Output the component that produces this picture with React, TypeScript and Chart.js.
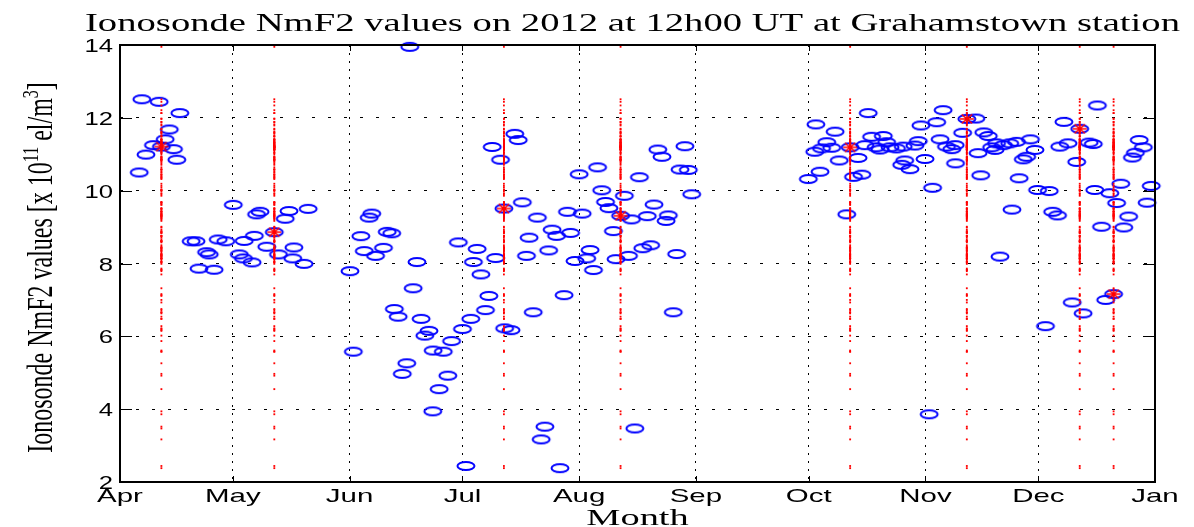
import React, { useEffect, useRef } from 'react';
import { Chart, registerables } from 'chart.js';

Chart.register(...registerables);

// Month axis: days counted from 1 April 2012
const monthLabels = ['Apr', 'May', 'Jun', 'Jul', 'Aug', 'Sep', 'Oct', 'Nov', 'Dec', 'Jan'];
const monthStartDay = [0, 30, 61, 91, 122, 153, 183, 214, 244, 275];
const yTickValues = [2, 4, 6, 8, 10, 12, 14];

// Observation day (days since 1 April 2012) and NmF2 at 12h00 UT [x 10^11 el/m^3]
const obsDay = [
  5.1, 5.8, 6.9, 8.9, 10.4, 11, 12.0, 13.1, 14.2, 15.1, 15.9, 18.9, 20.2, 21.0, 23.0, 23.7, 25.0, 26.1, 28.1,
  30.1, 31.7, 32.8, 33.0, 35.1, 35.7, 36.3, 37.2, 39.0, 41, 42.1, 43.9, 44.9, 45.9, 46.2, 48.9, 50.0,
  61.1, 62.0, 64.0, 64.9, 66.2, 66.9, 67.9, 70.0, 71.0, 72.2, 72.9, 73.9, 75.0, 76.2, 77.0, 77.9, 78.9, 80.0,
  81.0, 82.1, 83.1, 83.2, 84.8, 85.9, 87.1, 88.1, 89.9,
  91.0, 91.9, 93.2, 93.9, 94.9, 95.9, 97.1, 98.0, 98.9, 99.8, 101.1, 102, 102.2, 103.9, 104.9, 105.8, 106.9,
  108.0, 108.7, 109.8, 110.9, 111.9, 112.9, 113.9, 114.8, 116.0, 116.9, 118.0, 118.9, 119.7, 120.9,
  122.0, 122.8, 124.0, 124.9, 125.8, 126.9, 128.0, 129.0, 129.9, 131.1, 131.8, 133, 134.0, 135.1, 135.9, 136.8,
  138.0, 138.9, 140.1, 141.0, 141.9, 142.9, 144.0, 145.1, 145.7, 147.0, 147.9, 148.8, 150.1, 151.0, 151.9,
  182.9, 184.6, 184.9, 186.0, 186.4, 187.8, 189.1, 190.0, 191.1, 193.1, 194, 194.9, 196.1, 197.1, 197.9, 198.8,
  199.7, 200.9, 201.9, 202.8, 203.7, 204.6, 206.3, 207.7, 208.1, 208.5, 209.9, 211.2, 212.1, 212.8, 213.9,
  215.0, 215.9, 217.0, 217.9, 218.7, 219.6, 221.0, 221.9, 222.0, 223.9, 225, 227.4, 228.0, 228.7, 229.5, 230.7,
  231.6, 232.5, 232.9, 233.8, 234.7, 236.4, 237.0, 238.2, 238.9, 240.0, 240.9, 241.9, 243.1,
  243.8, 245.9, 246.9, 247.8, 249.1, 249.7, 250.8, 251.9, 253.0, 254.2, 255, 255.9, 257.5, 258.6, 259.0, 259.7,
  260.8, 261.9, 263.0, 264, 264.8, 265.9, 266.7, 268.0, 269.0, 269.8, 270.8, 271.9, 272.9, 274.0,
];
const nmf2 = [
  10.5, 12.51, 10.99, 11.25, 12.44, 11.21, 11.41, 11.68, 11.14, 10.85, 12.13, 8.61, 8.61, 7.86, 8.31, 8.25, 7.83, 8.66, 8.61,
  9.61, 8.25, 8.14, 8.62, 8.03, 8.76, 9.35, 9.42, 8.46, 8.86, 8.25, 9.23, 9.44, 8.14, 8.44, 7.99, 9.5,
  7.79, 5.58, 8.75, 8.34, 9.26, 9.37, 8.21, 8.43, 8.87, 8.83, 6.75, 6.54, 4.97, 5.26, 13.95, 7.32, 8.04, 6.48,
  6.02, 6.15, 3.94, 5.61, 4.55, 5.58, 4.92, 5.87, 8.58,
  6.2, 2.44, 6.48, 8.04, 8.4, 7.7, 6.72, 7.11, 11.2, 8.15, 10.85, 9.51, 6.22, 6.17, 11.56, 11.39, 9.68,
  8.21, 8.71, 6.66, 9.26, 3.17, 3.52, 8.36, 8.93, 8.76, 2.38, 7.13, 9.42, 8.84, 8.07,
  10.45, 9.37, 8.14, 8.37, 7.82, 10.64, 10.01, 9.69, 9.52, 8.89, 8.12, 9.31, 9.86, 8.21, 9.21, 3.47,
  10.37, 8.42, 9.3, 8.5, 9.62, 11.13, 10.93, 9.17, 9.32, 6.66, 8.26, 10.58, 11.22, 10.57, 9.9,
  10.32, 11.07, 11.82, 10.52, 11.16, 11.33, 11.18, 11.62, 10.83, 9.35, 11.19, 10.38, 10.9, 10.44, 11.25, 12.13,
  11.48, 11.19, 11.13, 11.5, 11.33, 11.19, 11.16, 10.71, 11.21, 10.83, 10.59, 11.24, 11.36, 11.79, 10.87,
  3.86, 10.08, 11.88, 11.41, 12.21, 11.21, 11.14, 11.25, 10.75, 11.59, 11.97, 11.98, 11.03, 10.42, 11.6, 11.5,
  11.19, 11.12, 11.3, 8.19, 11.25, 11.3, 9.48, 11.34, 10.34, 10.86, 10.93, 11.41, 11.12,
  10.02, 6.28, 9.99, 9.42, 9.32, 11.21, 11.89, 11.3, 6.93, 10.79, 11.7, 6.63, 11.32, 11.28, 10.02, 12.34,
  9.01, 7.0, 9.93, 7.16, 9.66, 10.19, 8.99, 9.29, 10.91, 11.04, 11.39, 11.19, 9.67, 10.13,
];

// Marked days (12th of each month and 21 December)
const eventDay = [11, 41, 102, 133, 194, 225, 255, 264];

const TITLE = 'Ionosonde NmF2 values on 2012 at 12h00 UT at Grahamstown station';
const X_TITLE = 'Month';

function makeEllipseMarker(): HTMLCanvasElement {
  const c = document.createElement('canvas');
  c.width = 22;
  c.height = 12;
  const g = c.getContext('2d')!;
  g.strokeStyle = '#0000ff';
  g.lineWidth = 2;
  g.beginPath();
  g.ellipse(11, 6, 8.5, 4.0, 0, 0, Math.PI * 2);
  g.stroke();
  return c;
}

function makeAsteriskMarker(): HTMLCanvasElement {
  const c = document.createElement('canvas');
  c.width = 16;
  c.height = 12;
  const g = c.getContext('2d')!;
  g.strokeStyle = '#ff0000';
  g.lineWidth = 1.6;
  g.beginPath();
  g.moveTo(1, 6); g.lineTo(15, 6);
  g.moveTo(8, 0.5); g.lineTo(8, 11.5);
  g.moveTo(2.8, 1.5); g.lineTo(13.2, 10.5);
  g.moveTo(2.8, 10.5); g.lineTo(13.2, 1.5);
  g.stroke();
  return c;
}

function drawStretched(
  ctx: CanvasRenderingContext2D, text: string, x: number, y: number,
  font: string, sx: number, align: CanvasTextAlign,
) {
  ctx.save();
  ctx.translate(x, y);
  ctx.scale(sx, 1);
  ctx.font = font;
  ctx.textAlign = align;
  ctx.textBaseline = 'alphabetic';
  ctx.fillText(text, 0, 0);
  ctx.restore();
}

const framePlugin = {
  id: 'matlabFrame',
  afterDraw(chart: any) {
    const { ctx, chartArea: a, scales } = chart;
    const xs = scales.x;
    const ys = scales.y;
    ctx.save();
    ctx.strokeStyle = '#000';
    ctx.lineWidth = 1;
    ctx.beginPath();
    monthStartDay.forEach((d) => {
      const px = Math.round(xs.getPixelForValue(d)) + 0.5;
      ctx.moveTo(px, a.bottom); ctx.lineTo(px, a.bottom - 6);
      ctx.moveTo(px, a.top); ctx.lineTo(px, a.top + 6);
    });
    yTickValues.forEach((v) => {
      const py = Math.round(ys.getPixelForValue(v)) + 0.5;
      ctx.moveTo(a.left, py); ctx.lineTo(a.left + 12, py);
      ctx.moveTo(a.right, py); ctx.lineTo(a.right - 12, py);
    });
    ctx.stroke();
    ctx.lineWidth = 2;
    ctx.strokeRect(a.left, a.top, a.right - a.left, a.bottom - a.top);

    ctx.fillStyle = '#000';
    const tickFont = '19px "Liberation Sans"';
    yTickValues.forEach((v) => {
      drawStretched(ctx, String(v), a.left - 7, ys.getPixelForValue(v) + 7, tickFont, 1.35, 'right');
    });
    monthLabels.forEach((m, i) => {
      drawStretched(ctx, m, xs.getPixelForValue(monthStartDay[i]), a.bottom + 20, tickFont, 1.55, 'center');
    });

    // title, fitted to its span
    ctx.font = '26px "Liberation Serif"';
    const tw = ctx.measureText(TITLE).width;
    drawStretched(ctx, TITLE, 85, 31, '26px "Liberation Serif"', 1095 / tw, 'left');

    drawStretched(ctx, X_TITLE, (a.left + a.right) / 2, 525, '24px "Liberation Serif"', 1.6, 'center');

    // rotated y title with superscripts
    const parts = [
      { t: 'Ionosonde NmF2 values [x 10', sup: false },
      { t: '11', sup: true },
      { t: ' el/m', sup: false },
      { t: '3', sup: true },
      { t: ']', sup: false },
    ];
    const mainFont = '24px "Liberation Serif"';
    const supFont = '16px "Liberation Serif"';
    let total = 0;
    const widths = parts.map((p) => {
      ctx.font = p.sup ? supFont : mainFont;
      const w = ctx.measureText(p.t).width;
      total += w;
      return w;
    });
    ctx.save();
    ctx.translate(52, (a.top + a.bottom) / 2 + 4);
    ctx.scale(1.45, 1);
    ctx.rotate(-Math.PI / 2);
    ctx.textAlign = 'left';
    ctx.textBaseline = 'alphabetic';
    let u = -total / 2;
    parts.forEach((p, i) => {
      ctx.font = p.sup ? supFont : mainFont;
      ctx.fillText(p.t, u, p.sup ? -10 : 0);
      u += widths[i];
    });
    ctx.restore();
    ctx.restore();
  },
};

export default function App() {
  const canvasRef = useRef<HTMLCanvasElement | null>(null);

  useEffect(() => {
    const canvas = canvasRef.current;
    if (!canvas) return;
    const obsPoints = obsDay.map((d, i) => ({ x: d, y: nmf2[i] }));
    const eventPoints = eventDay.map((d) => {
      const i = obsDay.indexOf(d);
      return { x: d, y: nmf2[i] };
    });
    const eventColumn: { x: number; y: number }[] = [];
    eventDay.forEach((d) => nmf2.forEach((v) => eventColumn.push({ x: d, y: v })));

    const chart = new Chart(canvas, {
      type: 'scatter',
      data: {
        datasets: [
          {
            label: 'Marked day value',
            data: eventPoints,
            pointStyle: makeAsteriskMarker() as any,
            pointRadius: 5,
            order: 1,
            clip: false as any,
          },
          {
            label: 'Marked day',
            data: eventColumn,
            pointStyle: 'rect',
            pointRadius: 1.3,
            backgroundColor: '#ff0000',
            borderWidth: 0,
            order: 2,
            clip: false as any,
          },
          {
            label: 'NmF2',
            data: obsPoints,
            pointStyle: makeEllipseMarker() as any,
            pointRadius: 5,
            order: 3,
            clip: false as any,
          },
        ],
      },
      options: {
        animation: false,
        responsive: false,
        devicePixelRatio: 1,
        layout: { padding: { left: 120, right: 39, top: 45, bottom: 45 } },
        plugins: { legend: { display: false }, tooltip: { enabled: false }, title: { display: false } },
        events: [],
        scales: {
          x: {
            type: 'linear',
            min: 0,
            max: 275,
            afterBuildTicks: (s: any) => { s.ticks = monthStartDay.map((v) => ({ value: v })); },
            ticks: { display: false },
            grid: { color: '#000', lineWidth: 1, drawTicks: false },
            border: { display: false, dash: [2, 6] },
          },
          y: {
            type: 'linear',
            min: 2,
            max: 14,
            afterBuildTicks: (s: any) => { s.ticks = yTickValues.map((v) => ({ value: v })); },
            ticks: { display: false },
            grid: { color: '#000', lineWidth: 1, drawTicks: false },
            border: { display: false, dash: [3, 13] },
          },
        },
      },
      plugins: [framePlugin],
    });
    return () => chart.destroy();
  }, []);

  return (
    <div style={{ position: 'fixed', left: 0, top: 0, width: 1194, height: 527, background: '#fff' }}>
      <canvas ref={canvasRef} width={1194} height={527} />
    </div>
  );
}
